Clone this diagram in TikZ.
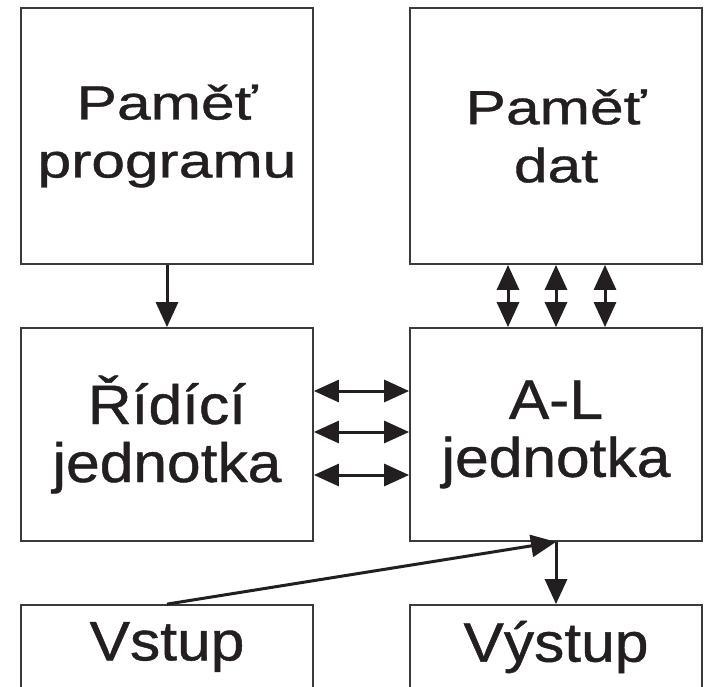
\documentclass[tikz,border=0pt]{standalone}
\usepackage{fontspec}
\setmainfont{Liberation Sans}
\newfontfamily\wideupper[FakeStretch=1.26,FakeBold=0.8]{Liberation Sans}
\newfontfamily\widelower[FakeStretch=1.09,FakeBold=0.8]{Liberation Sans}
\usetikzlibrary{arrows.meta}
\definecolor{ink}{HTML}{231F20}
\definecolor{frame}{HTML}{3A3A3A}

\begin{document}
\begin{tikzpicture}[x=1pt,y=-1pt,>={Triangle[length=25pt,width=22pt]},
		block/.style={draw=frame,line width=1.8pt,text=ink,align=center,minimum width=292pt,inner sep=0pt},
		upper/.style={block,minimum height=256pt,font=\wideupper\fontsize{48}{58}\selectfont},
		lower/.style={block,font=\widelower\fontsize{55.5}{58}\selectfont},
		bus/.style={draw=ink,line width=3pt}]
		\clip (0,0) rectangle (704,686);
		\fill[white] (0,0) rectangle (704,686);

		% Memories
		\node[upper] (pp) at (167,136) {Paměť\\programu};
		\node[upper] (pd) at (556,136) {Paměť\\dat};

		% Processing units
		\node[lower,minimum height=213pt] (rj) at (167,434.5) {Řídící\\jednotka};
		\node[lower,minimum height=213pt] (al) at (556,434.5) {A-L\\jednotka};

		% Input and output
		\node[lower,minimum height=84pt] (vstup) at (167,647) {Vstup};
		\node[lower,minimum height=84pt] (vystup) at (556,647) {Výstup};

		% Connections
		\draw[bus,->] (pp.south) -- (rj.north);
		\foreach \s in {-48,0,49}
			\draw[bus,<->] ([xshift=\s pt]pd.south) -- ([xshift=\s pt]al.north);
		\foreach \s in {43.5,2.5,-40.5}
			\draw[bus,<->] ([yshift=\s pt]rj.east) -- ([yshift=\s pt]al.west);
		\draw[bus,->] (vstup.north) -- (al.south);
		\draw[bus,->] (al.south) -- (vystup.north);
	\end{tikzpicture}
\end{document}
